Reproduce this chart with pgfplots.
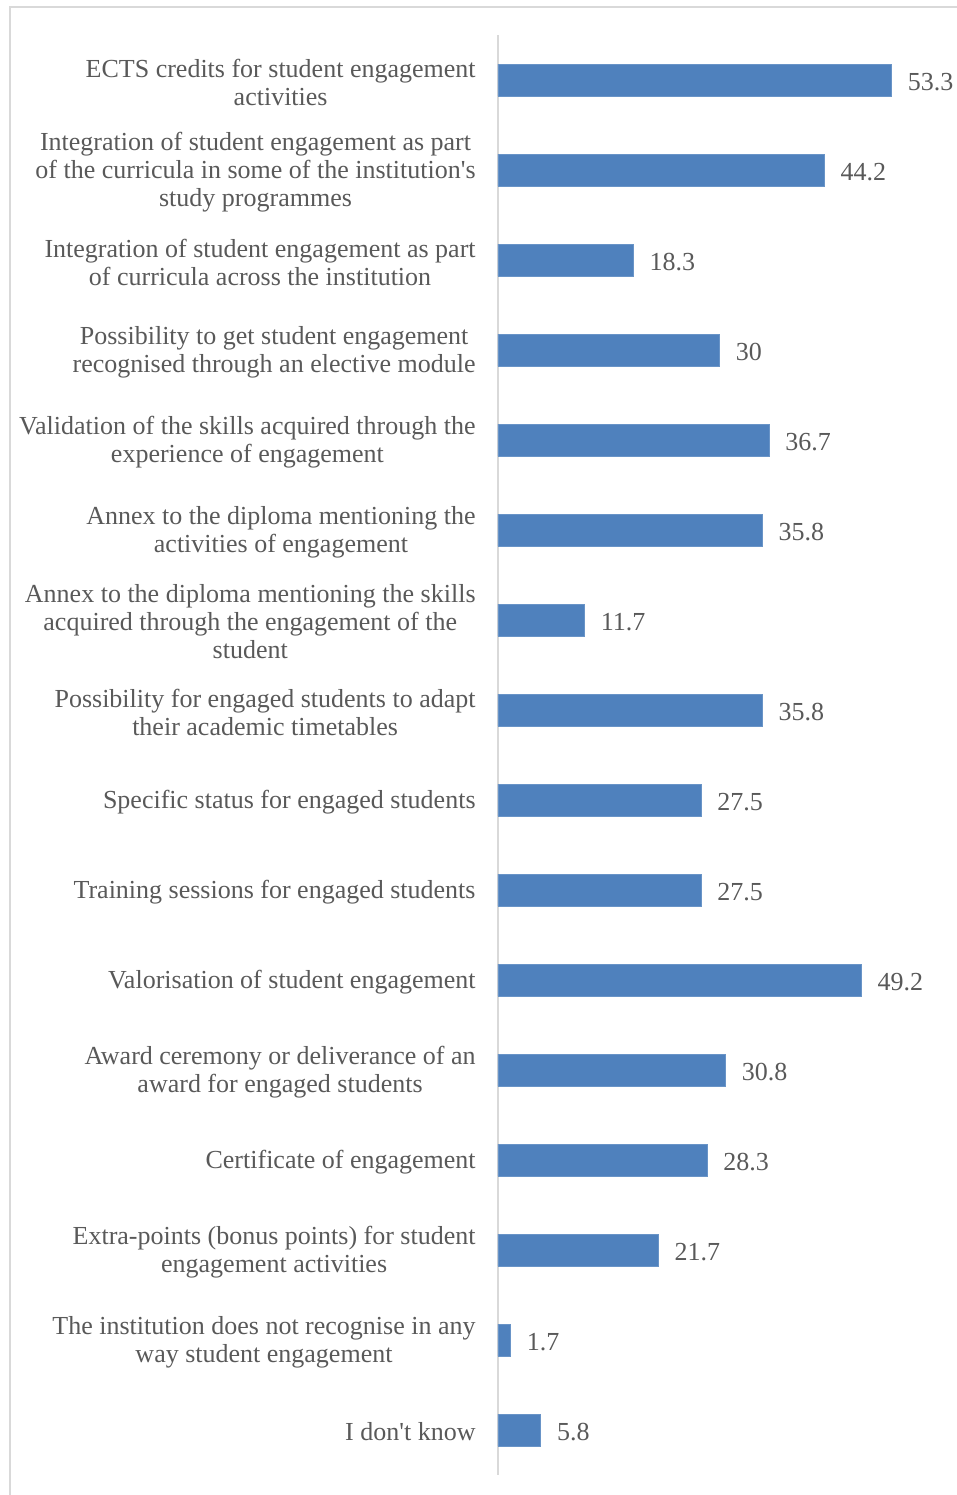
\documentclass[border=0pt]{standalone}
\usepackage{fontspec}
\setmainfont{Liberation Serif}
\usepackage{pgfplots}
\pgfplotsset{compat=1.18}
\definecolor{barblue}{HTML}{4F81BD}
\definecolor{txtgrey}{HTML}{595959}
\definecolor{linegrey}{HTML}{D9D9D9}
\begin{document}
\begin{tikzpicture}
\begin{axis}[
  at={(0,0)}, anchor=south west,
  scale only axis,
  width=221.5pt, height=720pt,
  xbar, bar width=16pt,
  xmin=0, xmax=60,
  ymin=-0.5, ymax=15.5,
  y dir=reverse,
  enlargelimits=false,
  clip=false,
  axis x line=none,
  axis y line*=left,
  y axis line style={draw=linegrey, line width=0.75pt},
  major tick length=0pt,
  ytick={0,...,15},
  yticklabels={
    {ECTS credits for student engagement\\activities},
    {Integration of student engagement as part\\of the curricula in some of the institution\textquotesingle s\\study programmes},
    {Integration of student engagement as part\\of curricula across the institution},
    {Possibility to get student engagement\\recognised through an elective module},
    {Validation of the skills acquired through the\\experience of engagement},
    {Annex to the diploma mentioning the\\activities of engagement},
    {Annex to the diploma mentioning the skills\\acquired through the engagement of the\\student},
    {Possibility for engaged students to adapt\\their academic timetables},
    {Specific status for engaged students},
    {Training sessions for engaged students},
    {Valorisation of student engagement},
    {Award ceremony or deliverance of an\\award for engaged students},
    {Certificate of engagement},
    {Extra-points (bonus points) for student\\engagement activities},
    {The institution does not recognise in any\\way student engagement},
    {I don\textquotesingle t know}
  },
  yticklabel style={align=center, font=\fontsize{13}{14}\selectfont, text=txtgrey, inner sep=0pt, xshift=-11pt, yshift=-1pt},
  /pgf/number format/assume math mode=true,
  /pgf/number format/fixed, /pgf/number format/precision=1,
  nodes near coords,
  nodes near coords style={font=\fontsize{13}{14}\selectfont, text=txtgrey, anchor=west, inner sep=0pt, xshift=8pt, yshift=-1pt},
]
\addplot[fill=barblue, draw=barblue!85!white, line width=0.4pt] coordinates {
  (53.3,0) (44.2,1) (18.3,2) (30,3) (36.7,4) (35.8,5) (11.7,6) (35.8,7)
  (27.5,8) (27.5,9) (49.2,10) (30.8,11) (28.3,12) (21.7,13) (1.7,14) (5.8,15)
};
\end{axis}
\draw[linegrey, line width=0.75pt] (-244pt,-30pt) -- (-244pt,734pt) -- (260pt,734pt);
\pgfresetboundingbox
\path[use as bounding box] (-249pt,-10pt) rectangle (229.5pt,737.5pt);
\end{tikzpicture}
\end{document}
